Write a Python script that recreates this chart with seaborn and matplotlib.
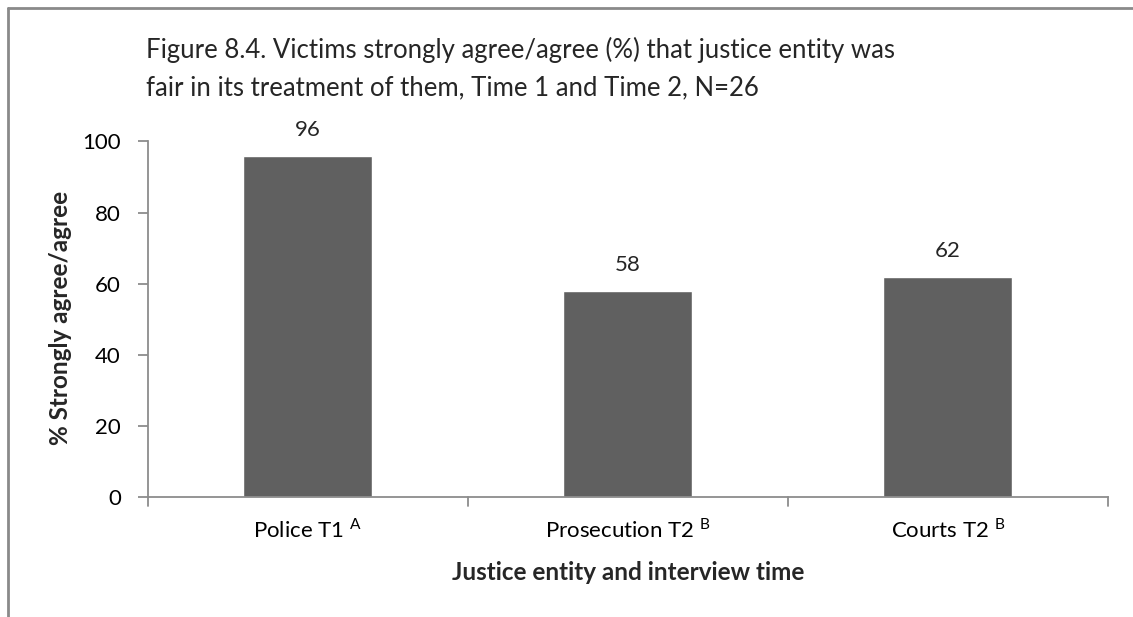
import matplotlib
matplotlib.use("Agg")
import matplotlib.pyplot as plt
from matplotlib.lines import Line2D
import seaborn as sns
import pandas as pd

categories = ["Police T1", "Prosecution T2", "Courts T2"]
superscripts = ["A", "B", "B"]
values = [96, 58, 62]
y_ticks = [0, 20, 40, 60, 80, 100]

title_lines = ["Figure 8.4. Victims strongly agree/agree (%) that justice entity was",
               "fair in its treatment of them, Time 1 and Time 2, N=26"]
x_label = "Justice entity and interview time"
y_label = "% Strongly agree/agree"

sns.set_theme(style="white")
plt.rcParams["font.family"] = ["Lato", "DejaVu Sans"]
plt.rcParams["mathtext.fontset"] = "custom"
plt.rcParams["mathtext.rm"] = "Lato"

df = pd.DataFrame({"entity": categories, "pct": values})

fig = plt.figure(figsize=(11.33, 6.17), dpi=100)
ax = fig.add_axes([0.1306, 0.1945, 0.8473, 0.5762])

sns.barplot(data=df, x="entity", y="pct", color="#606060", saturation=1,
            width=0.403, ax=ax)

axis_grey = "#8c8c8c"
ax.set_ylim(0, 100)
ax.set_xlim(-0.5, len(categories) - 0.5)
ax.set_yticks(y_ticks)
ax.set_yticklabels([str(t) for t in y_ticks], fontsize=16, color="black")
ax.set_xticks(range(len(categories)))
ax.set_xticklabels([f"{c} $^{{\\mathrm{{{s}}}}}$" for c, s in zip(categories, superscripts)],
                   fontsize=16, color="black")

# category boundary ticks on the x axis
ax.tick_params(axis="x", length=0, pad=15)
for b in range(len(categories) + 1):
    ax.plot([b - 0.5, b - 0.5], [0, -2.4], color=axis_grey, lw=1.3,
            clip_on=False)
ax.tick_params(axis="y", length=7.5, width=1.3, color=axis_grey, left=True, pad=12)

for side in ["top", "right"]:
    ax.spines[side].set_visible(False)
for side in ["left", "bottom"]:
    ax.spines[side].set_color(axis_grey)
    ax.spines[side].set_linewidth(1.3)

for i, v in enumerate(values):
    ax.text(i, v + 5.5, f"{v}", ha="center", va="baseline", fontsize=16)

ax.set_xlabel(x_label, fontsize=17.5, fontweight="bold")
ax.xaxis.label.set_va("center")
ax.xaxis.set_label_coords(0.5, -0.211)
ax.set_ylabel(y_label, fontsize=17.5, fontweight="bold")
ax.yaxis.label.set_va("center")
ax.yaxis.set_label_coords(-0.0906, 0.505)

fig.text(0.1285, 1 - 58 / 617, title_lines[0], ha="left", va="baseline", fontsize=18.5)
fig.text(0.1285, 1 - 95 / 617, title_lines[1], ha="left", va="baseline", fontsize=18.5)

# outer frame edges
fig.add_artist(Line2D([0.0071, 0.0071], [0, 0.987], color="#8a8a8a", lw=2,
                      transform=fig.transFigure))
fig.add_artist(Line2D([0.0071, 1], [0.987, 0.987], color="#8a8a8a", lw=2,
                      transform=fig.transFigure))

fig.savefig("out.png", dpi=100, facecolor="white")
